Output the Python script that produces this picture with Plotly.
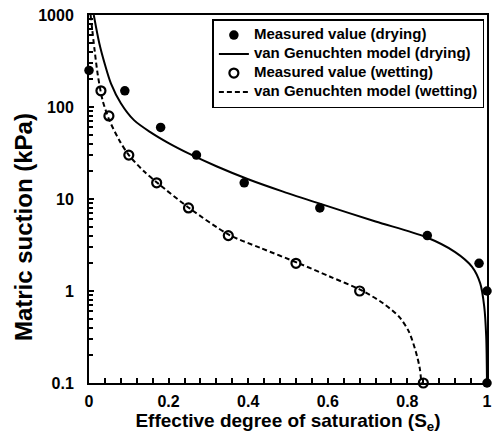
import plotly.graph_objects as go

# Measured values (drying)
dry_se = [0.0, 0.09, 0.18, 0.27, 0.39, 0.58, 0.85, 0.98, 1.0, 1.0]
dry_psi = [250, 150, 60, 30, 15, 8, 4, 2, 1, 0.1]

# Measured values (wetting)
wet_se = [0.03, 0.05, 0.10, 0.17, 0.25, 0.35, 0.52, 0.68, 0.84]
wet_psi = [150, 80, 30, 15, 8, 4, 2, 1, 0.1]

# van Genuchten model (drying)
vg_dry_se = [0.012, 0.026, 0.04, 0.055, 0.08, 0.113, 0.155, 0.2, 0.25, 0.32, 0.4,
             0.486, 0.58, 0.72, 0.846, 0.92, 0.962, 0.983, 0.993, 0.998, 1.0]
vg_dry_psi = [1000, 490, 290, 181, 110, 72, 53, 40.5, 31.3, 22.7, 16.4,
              12.1, 8.9, 5.7, 3.86, 2.65, 1.84, 1.21, 0.68, 0.32, 0.1]

# van Genuchten model (wetting)
vg_wet_se = [0.004, 0.014, 0.022, 0.034, 0.051, 0.076, 0.10, 0.138, 0.175, 0.254,
             0.353, 0.43, 0.527, 0.606, 0.684, 0.738, 0.78, 0.804, 0.821, 0.831, 0.835]
vg_wet_psi = [1000, 417, 224, 119, 72, 43.6, 30, 20, 14.6, 7.85,
              4.06, 2.95, 2.0, 1.43, 1.02, 0.74, 0.52, 0.36, 0.22, 0.145, 0.1]

y_tickvals = [0.1, 1, 10, 100, 1000]
y_ticktext = ["0.1", "1", "10", "100", "1000"]
x_tickvals = [0, 0.2, 0.4, 0.6, 0.8, 1]
x_ticktext = ["0", "0.2", "0.4", "0.6", "0.8", "1"]
y_minor = [m * 10 ** e for e in (-1, 0, 1, 2) for m in range(2, 10)]

names = ["Measured value (drying)", "van Genuchten model (drying)",
         "Measured value (wetting)", "van Genuchten model (wetting)"]

FONT = "Liberation Sans, Arial, sans-serif"


def leg(t):
    return "<span style='font-size:15px'>" + t + "</span>"


fig = go.Figure()
fig.add_trace(go.Scatter(
    x=dry_se, y=dry_psi, mode="markers", name=leg(names[0]),
    marker=dict(symbol="circle", size=9.5, color="black"), cliponaxis=False))
fig.add_trace(go.Scatter(
    x=vg_dry_se, y=vg_dry_psi, mode="lines", name=leg(names[1]),
    line=dict(color="black", width=2, shape="spline", smoothing=0.8), cliponaxis=False))
fig.add_trace(go.Scatter(
    x=wet_se, y=wet_psi, mode="markers", name=leg(names[2]),
    marker=dict(symbol="circle-open", size=9, color="black", line=dict(width=2.2)),
    cliponaxis=False))
fig.add_trace(go.Scatter(
    x=vg_wet_se, y=vg_wet_psi, mode="lines", name=leg(names[3]),
    line=dict(color="black", width=2, dash="5px,3px", shape="spline", smoothing=0.8),
    cliponaxis=False))

fig.update_layout(
    width=495, height=440,
    margin=dict(l=89, r=3, t=15, b=57),
    paper_bgcolor="white", plot_bgcolor="white",
    font=dict(family=FONT, color="black", size=15, weight="bold"),
    showlegend=True,
    legend=dict(
        x=0.31, y=0.989, xanchor="left", yanchor="top",
        bordercolor="black", borderwidth=1.5, bgcolor="white",
        font=dict(family=FONT, size=11, color="black", weight="bold"),
        tracegroupgap=0, itemwidth=30,
    ),
    xaxis=dict(
        range=[0, 1], tickmode="array", tickvals=x_tickvals, ticktext=x_ticktext,
        ticks="inside", ticklen=5, tickwidth=1.5, tickcolor="black",
        minor=dict(ticks="inside", ticklen=5, tickwidth=1.5, tickcolor="black", dtick=0.04),
        showline=True, linecolor="black", linewidth=2, mirror=True,
        showgrid=False, zeroline=False,
        tickfont=dict(family=FONT, size=16, color="black", weight="bold"),
        ticklabelstandoff=3,
        title=dict(text="Effective degree of saturation (S<sub>e</sub>)",
                   font=dict(family=FONT, size=19, color="black", weight="bold"),
                   standoff=1),
    ),
    yaxis=dict(
        type="log", range=[-1, 3], tickmode="array",
        tickvals=y_tickvals, ticktext=y_ticktext,
        ticks="inside", ticklen=5, tickwidth=1.5, tickcolor="black",
        minor=dict(ticks="inside", ticklen=4, tickwidth=1.5, tickcolor="black",
                   tickmode="array", tickvals=y_minor),
        showline=True, linecolor="black", linewidth=2, mirror=True,
        showgrid=False, zeroline=False,
        tickfont=dict(family=FONT, size=16, color="black", weight="bold"),
        ticklabelstandoff=10,
    ),
    annotations=[dict(
        text="Matric suction (kPa)", textangle=-90,
        xref="paper", yref="paper", x=-0.163, y=0.424,
        xanchor="center", yanchor="middle", showarrow=False,
        font=dict(family=FONT, size=24, color="black", weight="bold"),
    )],
)

fig.write_html("out.html")
